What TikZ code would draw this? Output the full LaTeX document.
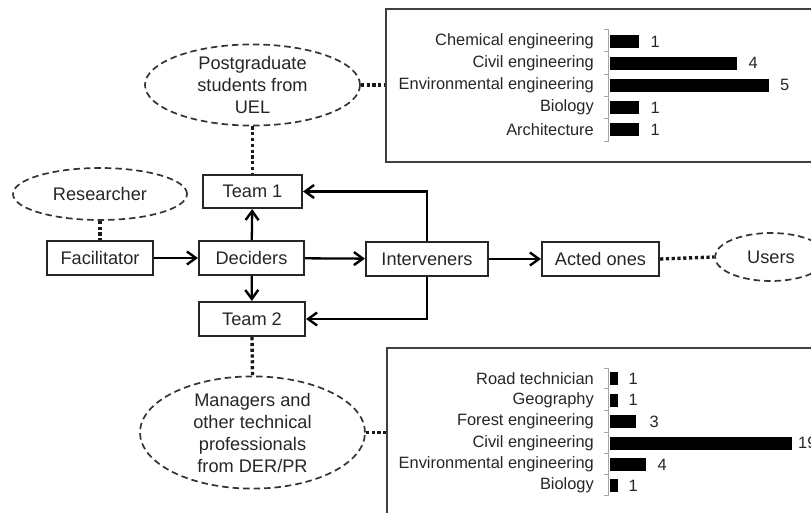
\documentclass[tikz,border=0pt]{standalone}
\usepackage{fontspec}
\setmainfont{Liberation Sans}
\usetikzlibrary{shapes.geometric,arrows.meta}
\begin{document}
\begin{tikzpicture}[x=1pt,y=-1pt,
  txt/.style={text=black!85},
  box/.style={draw=black!85,line width=2.1pt,rectangle,inner sep=0pt,minimum height=34pt,
    font=\fontsize{18.2}{22}\selectfont,txt},
  oval/.style={draw=black!80,line width=1.7pt,dash pattern=on 6.5pt off 4pt,ellipse,inner sep=0pt,
    font=\fontsize{18.2}{22}\selectfont,align=center,txt},
  chartbox/.style={draw=black!75,line width=1.9pt,rectangle,inner sep=0pt},
  arr/.style={line width=2.3pt,draw=black,-{Straight Barb[length=9pt,width=13pt,line width=2.4pt]}},
  dotline/.style={line width=3.4pt,draw=black!90,dash pattern=on 3.2pt off 2.6pt},
  lab/.style={anchor=east,inner sep=0pt,font=\fontsize{16.4}{18}\selectfont,txt},
  num/.style={anchor=west,inner sep=0pt,font=\fontsize{16.4}{18}\selectfont,txt},
  bar/.style={fill=black,draw=none},
  axisln/.style={draw=black!35,line width=0.9pt}
]
\useasboundingbox (0,0) rectangle (811,512);

% chart frames
\node[chartbox,minimum width=444pt,minimum height=153pt] (c1) at (608,85.5) {};
\node[chartbox,minimum width=443pt,minimum height=190pt] (c2) at (608.5,443) {};

% main nodes
\node[box,minimum width=99pt,minimum height=33pt] (t1) at (252.5,191.5) {Team 1};
\node[box,minimum width=106pt] (fac) at (100,258) {Facilitator};
\node[box,minimum width=105pt] (dec) at (251.5,258) {Deciders};
\node[box,minimum width=122pt] (int) at (427,259) {Interveners};
\node[box,minimum width=117pt] (act) at (600.5,259) {Acted ones};
\node[box,minimum width=106pt] (t2) at (252,319) {Team 2};

% ellipses
\node[oval,minimum width=215pt,minimum height=76pt] (pg) at (252.5,85) {Postgraduate\\students from\\UEL};
\node[oval,minimum width=174pt,minimum height=52pt] (res) at (100,194) {Researcher};
\node[oval,minimum width=112pt,minimum height=48pt] (usr) at (771,257) {Users};
\node[oval,minimum width=225pt,minimum height=109pt] (mg) at (252.5,432.5) {Managers and\\other technical\\professionals\\from DER/PR};

% arrows
\draw[arr] (fac) -- (dec);
\draw[arr] (dec) -- (int);
\draw[arr] (int) -- (act);
\draw[arr] (dec) -- (t1);
\draw[arr] (dec) -- (t2);
\draw[arr] (int.north) |- (t1.east);
\draw[arr] (int.south) |- (t2.east);

% dotted links
\draw[dotline] (pg.south) -- (t1.north);
\draw[dotline] (pg.east) -- (pg.east -| c1.west);
\draw[dotline] (res.south) -- (fac.north);
\draw[dotline] (act.east) -- (usr.west);
\draw[dotline] (t2.south) -- (mg.north);
\draw[dotline] (mg.east) -- (mg.east -| c2.west);

% top chart
\draw[axisln] (604,29) -- (608,29) -- (608,141) -- (604,141);
\foreach \yy in {51.7,74,96.7,118.3} \draw[axisln] (604,\yy) -- (608,\yy);
\node[lab] (l1) at (594,41.5) {Chemical engineering};
\node[lab] (l2) at (594,63) {Civil engineering};
\node[lab] (l3) at (594,85) {Environmental engineering};
\node[lab] (l4) at (594,107.5) {Biology};
\node[lab] (l5) at (594,129.5) {Architecture};
\fill[bar] (610,35) rectangle (639,48);
\fill[bar] (610,56.5) rectangle (737,69.5);
\fill[bar] (610,78.5) rectangle (769,91.5);
\fill[bar] (610,101) rectangle (639,114);
\fill[bar] (610,123) rectangle (639,136);
\node[num] (n1) at (650.5,41.5) {1};
\node[num] (n2) at (748.5,63) {4};
\node[num] (n3) at (780,85) {5};
\node[num] (n4) at (650.5,107.5) {1};
\node[num] (n5) at (650.5,129.5) {1};

% bottom chart
\draw[axisln] (604,368) -- (608,368) -- (608,495) -- (604,495);
\foreach \yy in {388.5,410.5,432.5,453.5,474.5} \draw[axisln] (604,\yy) -- (608,\yy);
\node[lab] (m1) at (594,378.5) {Road technician};
\node[lab] (m2) at (594,400) {Geography};
\node[lab] (m3) at (594,421.5) {Forest engineering};
\node[lab] (m4) at (594,443) {Civil engineering};
\node[lab] (m5) at (594,464.5) {Environmental engineering};
\node[lab] (m6) at (594,485.5) {Biology};
\fill[bar] (610,372) rectangle (617.5,385);
\fill[bar] (610,393.5) rectangle (617.5,406.5);
\fill[bar] (610,415) rectangle (636,428);
\fill[bar] (610,436.5) rectangle (792,449.5);
\fill[bar] (610,458) rectangle (646,471);
\fill[bar] (610,479) rectangle (617.5,492);
\node[num] (k1) at (628.5,378.5) {1};
\node[num] (k2) at (628.5,400) {1};
\node[num] (k3) at (649.5,421.5) {3};
\node[num] (k4) at (798,443) {19};
\node[num] (k5) at (657.5,464.5) {4};
\node[num] (k6) at (628.5,485.5) {1};
\end{tikzpicture}
\end{document}
